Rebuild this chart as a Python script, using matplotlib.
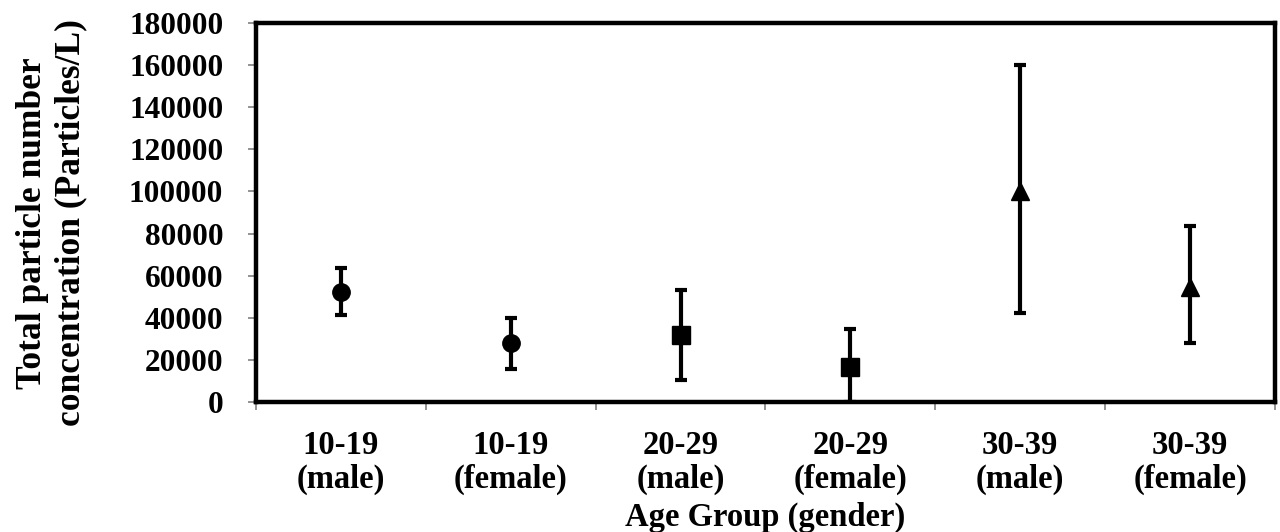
import matplotlib
matplotlib.use("Agg")
import matplotlib.pyplot as plt
import numpy as np

plt.rcParams['font.family'] = ['Liberation Serif', 'DejaVu Serif']
plt.rcParams['font.weight'] = 'bold'

# values
groups = ['10-19\n(male)', '10-19\n(female)', '20-29\n(male)',
          '20-29\n(female)', '30-39\n(male)', '30-39\n(female)']
means = [52400, 27900, 31800, 16600, 100200, 54800]
upper = [63700, 40000, 53200, 34700, 160000, 83600]
lower = [41300, 15500, 10400, 0, 42400, 28200]
markers = ['o', 'o', 's', 's', '^', '^']
yticks = list(range(0, 180001, 20000))

fig = plt.figure(figsize=(12.8, 5.32), dpi=100)
ax = fig.add_axes([256/1280, 1-402/532, (1275-256)/1280, (402-23)/532])

x = np.arange(len(groups))
for i in range(len(groups)):
    ax.errorbar(x[i], means[i],
                yerr=[[means[i]-lower[i]], [upper[i]-means[i]]],
                fmt=markers[i], color='black', ms=12.5 if markers[i] != '^' else 13.5,
                elinewidth=3, capsize=4, capthick=3, clip_on=True)

ax.set_xlim(-0.5, len(groups)-0.5)
ax.set_ylim(0, 180000)
ax.set_yticks(yticks)
ax.set_yticklabels([str(v) for v in yticks])

# category boundary ticks (major), labels on centres (minor)
ax.set_xticks(np.arange(-0.5, len(groups), 1.0))
ax.set_xticklabels([])
ax.set_xticks(x, minor=True)
ax.set_xticklabels(groups, minor=True, linespacing=1.12)
ax.tick_params(axis='x', which='minor', length=0, pad=20, labelsize=23.5)
ax.tick_params(axis='x', which='major', length=6, width=1.2, color='#808080', direction='out')
ax.tick_params(axis='y', length=6, width=1.2, color='#808080', direction='out', pad=17.5, labelsize=22.5)

for s in ax.spines.values():
    s.set_linewidth(3.2)
    s.set_color('black')

fig.text(52/1280, 1-223/532, 'Total particle number\nconcentration (Particles/L)',
         rotation=90, ha='center', va='center', fontsize=25.5, fontweight='bold',
         multialignment='center', linespacing=1.22)
fig.text((256+1275)/2/1280, 1-526/532, 'Age Group (gender)', ha='center', va='baseline',
         fontsize=23.5, fontweight='bold')

fig.savefig('out.png', dpi=100)
